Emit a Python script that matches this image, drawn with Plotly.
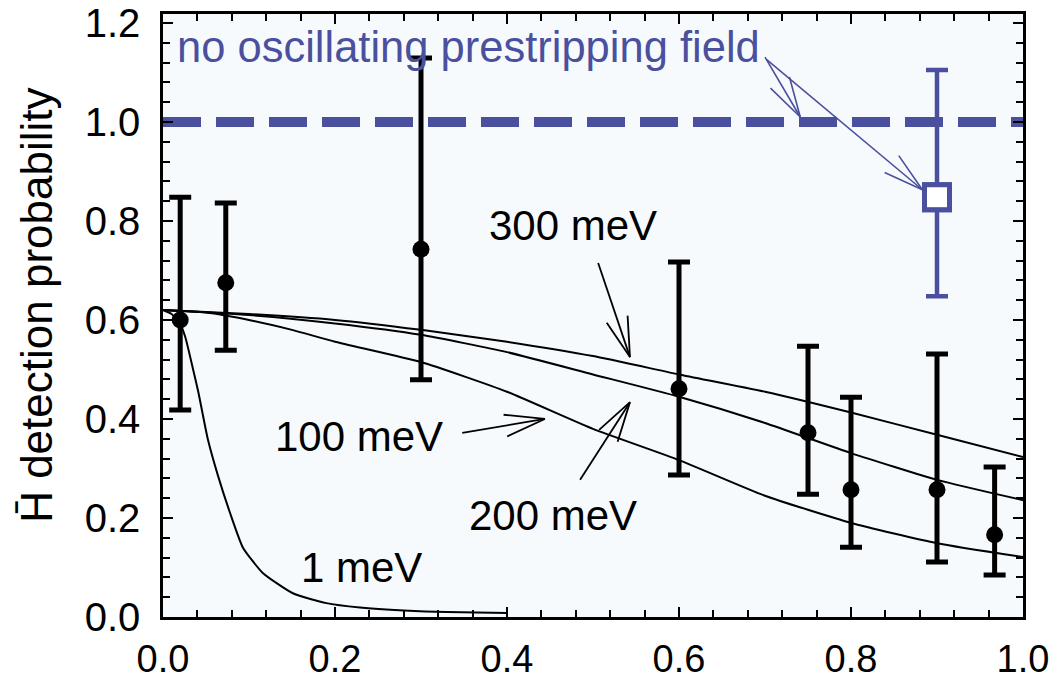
import math
import plotly.graph_objects as go

# ---------------- data ----------------
# measured points (black)
pts_x = [0.02, 0.073, 0.30, 0.60, 0.75, 0.80, 0.90, 0.967]
pts_y = [0.600, 0.675, 0.743, 0.461, 0.372, 0.257, 0.257, 0.166]
pts_hi = [0.848, 0.836, 1.129, 0.717, 0.547, 0.444, 0.531, 0.303]
pts_lo = [0.418, 0.539, 0.479, 0.287, 0.248, 0.141, 0.111, 0.085]

# no-field point (blue)
ref_x = [0.90]
ref_y = [0.848]
ref_hi = [1.105]
ref_lo = [0.648]

# reference level
level_x = [0.0, 1.0]
level_y = [1.0, 1.0]

# model curves
x_300 = [0, 0.1, 0.2, 0.3, 0.4, 0.5, 0.6, 0.7, 0.8, 0.9, 1.0]
y_300 = [0.620, 0.612, 0.600, 0.580, 0.556, 0.527, 0.490, 0.455, 0.413, 0.368, 0.323]
x_200 = [0, 0.1, 0.2, 0.3, 0.4, 0.5, 0.6, 0.7, 0.8, 0.9, 1.0]
y_200 = [0.620, 0.610, 0.593, 0.570, 0.535, 0.490, 0.445, 0.392, 0.331, 0.277, 0.236]
x_100 = [0, 0.05, 0.1, 0.15, 0.2, 0.3, 0.4, 0.5, 0.6, 0.7, 0.8, 0.9, 1.0]
y_100 = [0.620, 0.615, 0.600, 0.580, 0.556, 0.515, 0.455, 0.380, 0.317, 0.245, 0.190, 0.149, 0.121]
x_1 = [0, 0.01, 0.02, 0.026, 0.035, 0.041, 0.052, 0.064, 0.078, 0.093, 0.116, 0.151, 0.19, 0.229, 0.28, 0.33, 0.40]
y_1 = [0.62, 0.612, 0.592, 0.565, 0.50, 0.455, 0.36, 0.285, 0.21, 0.14, 0.089, 0.048, 0.028, 0.019, 0.013, 0.010, 0.008]

# labels
label_text = ["300 meV", "100 meV", "200 meV", "1 meV"]
label_pos = [(0.477, 0.790), (0.228, 0.364), (0.454, 0.206), (0.231, 0.099)]
blue_text = "no oscillating prestripping field"
blue_pos = (0.014, 1.152)

# arrows (tail -> tip)
black_arrow_tails = [(0.506, 0.715), (0.348, 0.372), (0.485, 0.277)]
black_arrow_tips = [(0.543, 0.525), (0.444, 0.400), (0.543, 0.434)]
blue_arrow_tails = [(0.700, 1.131), (0.702, 1.126)]
blue_arrow_tips = [(0.741, 1.010), (0.883, 0.863)]

x_ticks = [0.0, 0.2, 0.4, 0.6, 0.8, 1.0]
y_ticks = [0.0, 0.2, 0.4, 0.6, 0.8, 1.0, 1.2]

# ---------------- styling / layout ----------------
W, H = 1058, 684
ML, MR, MT, MB = 163, 35, 14, 67
XR = [0.0, 1.0]
YR = [0.0, 1.218]
PX_X = (W - ML - MR) / (XR[1] - XR[0])
PX_Y = (H - MT - MB) / (YR[1] - YR[0])
BLUE = "#4b509e"
FONT = "Liberation Sans, Arial, Helvetica, sans-serif"


def arrow_path(tail, tip, L=40.0, Wd=11.0):
    dx = (tip[0] - tail[0]) * PX_X
    dy = (tip[1] - tail[1]) * PX_Y
    n = math.hypot(dx, dy)
    ux, uy = dx / n, dy / n
    nx, ny = -uy, ux
    b1 = (tip[0] + (-L * ux + Wd * nx) / PX_X, tip[1] + (-L * uy + Wd * ny) / PX_Y)
    b2 = (tip[0] + (-L * ux - Wd * nx) / PX_X, tip[1] + (-L * uy - Wd * ny) / PX_Y)
    xs = [tail[0], tip[0], None, b1[0], tip[0], b2[0]]
    ys = [tail[1], tip[1], None, b1[1], tip[1], b2[1]]
    return xs, ys


fig = go.Figure()

for xs, ys in [(x_300, y_300), (x_200, y_200), (x_100, y_100), (x_1, y_1)]:
    fig.add_trace(go.Scatter(x=xs, y=ys, mode="lines",
                             line=dict(color="black", width=2, shape="spline", smoothing=0.5),
                             showlegend=False, hoverinfo="skip"))

fig.add_trace(go.Scatter(x=level_x, y=level_y, mode="lines",
                         line=dict(color=BLUE, width=10, dash="38px,15px"),
                         showlegend=False, hoverinfo="skip"))

fig.add_trace(go.Scatter(
    x=ref_x, y=ref_y, mode="markers",
    marker=dict(symbol="square-open", size=25, color=BLUE, line=dict(width=5, color=BLUE)),
    error_y=dict(type="data", symmetric=False,
                 array=[h - v for h, v in zip(ref_hi, ref_y)],
                 arrayminus=[v - l for l, v in zip(ref_lo, ref_y)],
                 color=BLUE, thickness=4.5, width=11),
    showlegend=False))
fig.add_trace(go.Scatter(
    x=ref_x, y=ref_y, mode="markers",
    marker=dict(symbol="square", size=21, color="white"),
    showlegend=False, hoverinfo="skip"))
fig.add_trace(go.Scatter(
    x=ref_x, y=ref_y, mode="markers",
    marker=dict(symbol="square-open", size=25, color=BLUE, line=dict(width=5, color=BLUE)),
    showlegend=False, hoverinfo="skip"))

fig.add_trace(go.Scatter(
    x=pts_x, y=pts_y, mode="markers",
    marker=dict(symbol="circle", size=17, color="black"),
    error_y=dict(type="data", symmetric=False,
                 array=[h - v for h, v in zip(pts_hi, pts_y)],
                 arrayminus=[v - l for l, v in zip(pts_lo, pts_y)],
                 color="black", thickness=5, width=11),
    showlegend=False))

for t, p in zip(black_arrow_tails, black_arrow_tips):
    xs, ys = arrow_path(t, p)
    fig.add_trace(go.Scatter(x=xs, y=ys, mode="lines", line=dict(color="black", width=1.8),
                             showlegend=False, hoverinfo="skip"))
for t, p in zip(blue_arrow_tails, blue_arrow_tips):
    xs, ys = arrow_path(t, p)
    fig.add_trace(go.Scatter(x=xs, y=ys, mode="lines", line=dict(color=BLUE, width=1.6),
                             showlegend=False, hoverinfo="skip"))

annotations = []
for txt, (lx, ly) in zip(label_text, label_pos):
    annotations.append(dict(x=lx, y=ly, xref="x", yref="y", text=txt, showarrow=False,
                            xanchor="center", yanchor="middle",
                            font=dict(family=FONT, size=42, color="black")))
annotations.append(dict(x=blue_pos[0], y=blue_pos[1], xref="x", yref="y", text=blue_text,
                        showarrow=False, xanchor="left", yanchor="middle",
                        font=dict(family=FONT, size=43.5, color=BLUE)))
annotations.append(dict(x=(37 - ML) / (W - ML - MR), y=0.516, xref="paper", yref="paper",
                        text="H\u0304 detection probability", textangle=-90, showarrow=False,
                        xanchor="center", yanchor="middle",
                        font=dict(family=FONT, size=44, color="black")))

axis_common = dict(showline=True, linecolor="black", linewidth=2.5, mirror="ticks",
                   ticks="inside", ticklen=10, tickwidth=2, tickcolor="black",
                   showgrid=False, zeroline=False, tickformat=".1f", automargin=False,
                   minor=dict(ticks="inside", ticklen=7, tickwidth=2, tickcolor="black", showgrid=False))

fig.update_layout(
    width=W, height=H,
    margin=dict(l=ML, r=MR, t=MT, b=MB, pad=0, autoexpand=False),
    paper_bgcolor="white", plot_bgcolor="#f6fafd",
    xaxis=dict(range=XR, tickvals=x_ticks, ticklabelstandoff=7,
               tickfont=dict(family=FONT, size=38, color="black"), **axis_common),
    yaxis=dict(range=YR, tickvals=y_ticks, ticklabelstandoff=12,
               tickfont=dict(family=FONT, size=40, color="black"), **axis_common),
    annotations=annotations,
    showlegend=False,
)
fig.update_xaxes(minor_dtick=0.04, minor_tick0=0)
fig.update_yaxes(minor_dtick=0.04, minor_tick0=0)

fig.write_html("out.html")
